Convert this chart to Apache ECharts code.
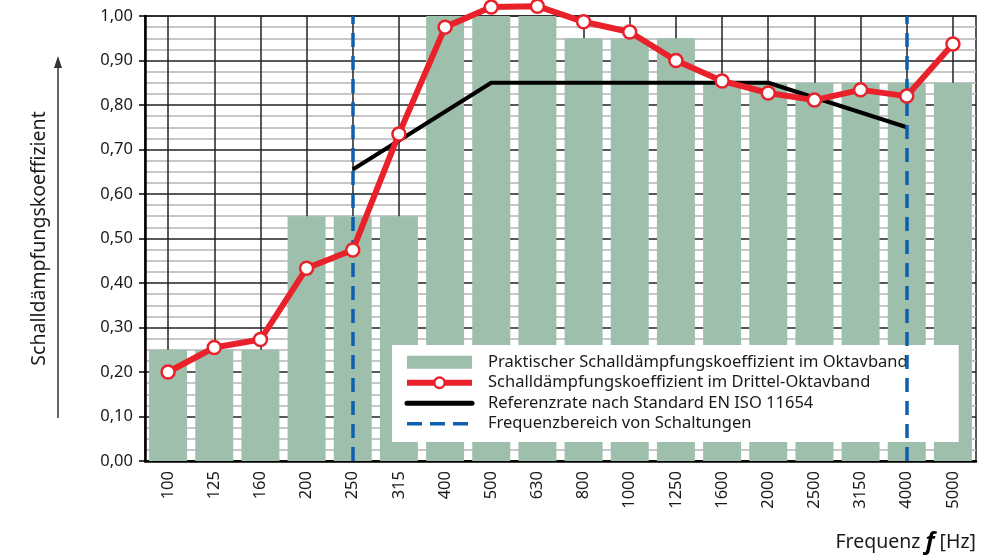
<!DOCTYPE html>
<html>
<head>
<meta charset="utf-8">
<script src="https://cdn.jsdelivr.net/npm/echarts@6/dist/echarts.min.js"></script>
<style>
html,body{margin:0;padding:0;background:#fff;}
#chart{width:1008px;height:558px;}
</style>
</head>
<body>
<div id="chart"></div>
<script>
const categories = ['100','125','160','200','250','315','400','500','630','800','1000','1250','1600','2000','2500','3150','4000','5000'];
const octaveValues = [0.25,0.25,0.25,0.55,0.55,0.55,1.00,1.00,1.00,0.95,0.95,0.95,0.85,0.85,0.85,0.85,0.85,0.85];
const thirdOctaveValues = [0.20,0.255,0.273,0.433,0.474,0.735,0.975,1.02,1.022,0.987,0.964,0.90,0.854,0.827,0.811,0.834,0.82,0.937];
const referenceValues = [null,null,null,null,0.655,null,null,0.85,null,null,null,null,null,0.85,null,null,0.75,null];
const rangeMarkers = ['250','4000'];
const seriesNames = [
  'Praktischer Schalldämpfungskoeffizient im Oktavband',
  'Schalldämpfungskoeffizient im Drittel-Oktavband',
  'Referenzrate nach Standard EN ISO 11654',
  'Frequenzbereich von Schaltungen'
];
const yAxisTitle = 'Schalldämpfungskoeffizient';

const FONT = 'Noto Sans';
const TXT = '#1a1a1a';
const RED = '#e8212b';
const BLUE = '#0e5fae';
const GREEN = '#9dbfab';
const chart = echarts.init(document.getElementById('chart'));
chart.setOption({
  animation: false,
  backgroundColor: '#fff',
  textStyle: {fontFamily: FONT},
  grid: {left: 145, right: 32, top: 16, bottom: 97, show: true, borderColor: '#222', borderWidth: 1.5, backgroundColor: 'transparent'},
  legend: {
    orient: 'vertical',
    left: 392, top: 345,
    backgroundColor: '#fff',
    padding: [7, 51, 8, 12],
    itemWidth: 65, itemHeight: 13, itemGap: 0,
    data: [
      {name: seriesNames[0], icon: 'rect', itemStyle: {color: GREEN}},
      {name: seriesNames[1], lineStyle: {color: RED, width: 6}, itemStyle: {color: '#fff', borderColor: RED, borderWidth: 2.5}},
      {name: seriesNames[2], lineStyle: {color: '#000', width: 5, cap: 'round'}, itemStyle: {opacity: 0}},
      {name: seriesNames[3], lineStyle: {color: BLUE, width: 3.5, type: [15, 8]}, itemStyle: {opacity: 0}}
    ],
    textStyle: {fontFamily: FONT, fontSize: 16.5, color: TXT, lineHeight: 20.5, padding: [0, 0, 0, 11]}
  },
  xAxis: {
    type: 'category',
    data: categories,
    boundaryGap: true,
    axisLine: {lineStyle: {color: '#000', width: 2.5}},
    axisTick: {alignWithLabel: true, length: 6, lineStyle: {color: '#000', width: 1.5}},
    axisLabel: {rotate: 90, fontSize: 16.5, color: TXT, margin: 10, fontFamily: FONT},
    splitLine: {show: true, alignWithLabel: true, lineStyle: {color: '#222', width: 1.5}}
  },
  yAxis: {
    type: 'value',
    min: 0, max: 1, interval: 0.1,
    name: yAxisTitle,
    nameLocation: 'middle',
    nameGap: 96,
    nameTextStyle: {fontSize: 19.5, color: TXT, fontFamily: FONT},
    axisLine: {show: true, lineStyle: {color: '#000', width: 2.5}},
    axisTick: {show: true, length: 6, lineStyle: {color: '#000', width: 1.5}},
    axisLabel: {fontSize: 16.5, color: TXT, margin: 12, fontFamily: FONT,
      formatter: v => v.toFixed(2).replace('.', ',')},
    splitLine: {show: true, lineStyle: {color: '#222', width: 1.5}},
    minorTick: {show: false, splitNumber: 4},
    minorSplitLine: {show: true, lineStyle: {color: '#b5b5b5', width: 1.5}}
  },
  graphic: [
    {type: 'line', shape: {x1: 58, y1: 418, x2: 58, y2: 66}, style: {stroke: '#333', lineWidth: 1.5}, z: 10},
    {type: 'polygon', shape: {points: [[58, 56], [54, 68], [62, 68]]}, style: {fill: '#333'}, z: 10},
    {type: 'text', right: 32, top: 530, z: 10,
      style: {
        text: '{a|Frequenz }{b|f}{a| [Hz]}',
        rich: {
          a: {fontFamily: FONT, fontSize: 19.5, fill: TXT},
          b: {fontFamily: FONT, fontSize: 24, fontWeight: 'bold', fontStyle: 'italic', fill: '#000'}
        }
      }}
  ],
  series: [
    {
      name: seriesNames[0], type: 'bar', data: octaveValues, barWidth: 38,
      itemStyle: {color: GREEN}, z: 2
    },
    {
      name: seriesNames[2], type: 'line', data: referenceValues, connectNulls: true,
      symbol: 'none', lineStyle: {color: '#000', width: 4}, itemStyle: {color: '#000'}, z: 3
    },
    {
      name: seriesNames[3], type: 'line', data: [], symbol: 'none',
      lineStyle: {color: BLUE, width: 3.5, type: [13, 8]}, itemStyle: {color: BLUE}, z: 4,
      markLine: {
        silent: true, symbol: ['none', 'none'], label: {show: false},
        lineStyle: {color: BLUE, width: 3.5, type: [14, 9]},
        data: rangeMarkers.map(c => ({xAxis: c}))
      }
    },
    {
      name: seriesNames[1], type: 'line', data: thirdOctaveValues, clip: false,
      symbol: 'circle', symbolSize: 13,
      itemStyle: {color: '#fff', borderColor: RED, borderWidth: 2.5},
      lineStyle: {color: RED, width: 6}, z: 5
    }
  ]
});
</script>
</body>
</html>
